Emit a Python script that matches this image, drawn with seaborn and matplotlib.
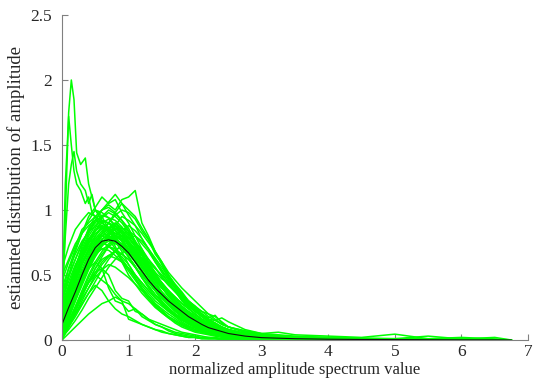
import numpy as np
import pandas as pd
import seaborn as sns
import matplotlib.pyplot as plt
from matplotlib.ticker import FormatStrFormatter

# malla comun de x para las curvas verdes
x_grid = [0.0, 0.1, 0.2, 0.3, 0.4, 0.5, 0.6, 0.7, 0.8, 0.9, 1.0, 1.1, 1.2,
          1.3, 1.4, 1.5, 1.6, 1.7, 1.8, 1.9, 2.0, 2.1, 2.2, 2.3, 2.4, 2.5,
          2.75, 3.0, 3.25, 3.5, 4.0, 4.5, 5.0, 5.5, 6.0, 6.5, 6.75]

# curvas individuales (leidas a ojo del grafico)
curvas = {
    'g01': [0.3, 0.5, 0.68, 0.82, 0.95, 1.02, 1.1, 1.05, 1.08, 0.98, 0.9, 0.8, 0.7, 0.6, 0.52, 0.43, 0.36, 0.3, 0.24, 0.2, 0.15, 0.12, 0.1, 0.08, 0.06, 0.05,
            0.03, 0.02, 0.015, 0.01, 0.01, 0.005, 0.003, 0.002, 0.002, 0.001, 0],
    'g02': [0.1, 0.2, 0.32, 0.45, 0.58, 0.7, 0.82, 0.9, 0.98, 1.05, 1.0, 0.95, 0.86, 0.78, 0.68, 0.6, 0.5, 0.42, 0.35, 0.28, 0.22, 0.18, 0.14, 0.1, 0.08, 0.06,
            0.04, 0.025, 0.02, 0.015, 0.01, 0.006, 0.004, 0.003, 0.002, 0.001, 0],
    'g03': [0.45, 0.6, 0.72, 0.85, 0.9, 0.95, 0.92, 0.9, 0.84, 0.78, 0.7, 0.62, 0.52, 0.45, 0.38, 0.3, 0.25, 0.2, 0.16, 0.12, 0.1, 0.08, 0.06, 0.05, 0.04, 0.03,
            0.02, 0.012, 0.01, 0.008, 0.005, 0.003, 0.002, 0.001, 0.001, 0, 0],
    'g04': [0.15, 0.28, 0.4, 0.52, 0.64, 0.74, 0.82, 0.86, 0.9, 0.86, 0.82, 0.75, 0.66, 0.58, 0.5, 0.44, 0.38, 0.3, 0.25, 0.2, 0.17, 0.14, 0.1, 0.09, 0.07, 0.05,
            0.035, 0.02, 0.015, 0.01, 0.008, 0.005, 0.004, 0.003, 0.002, 0.001, 0],
    'g05': [0.2, 0.32, 0.45, 0.58, 0.68, 0.76, 0.82, 0.85, 0.82, 0.8, 0.72, 0.65, 0.56, 0.5, 0.42, 0.36, 0.3, 0.26, 0.2, 0.17, 0.14, 0.11, 0.09, 0.07, 0.05, 0.04,
            0.025, 0.015, 0.01, 0.008, 0.005, 0.004, 0.002, 0.002, 0.001, 0.001, 0],
    'g06': [0.08, 0.22, 0.36, 0.5, 0.62, 0.74, 0.8, 0.78, 0.76, 0.7, 0.64, 0.56, 0.48, 0.42, 0.35, 0.3, 0.24, 0.2, 0.16, 0.13, 0.1, 0.08, 0.06, 0.05, 0.04, 0.03,
            0.02, 0.01, 0.008, 0.006, 0.004, 0.003, 0.002, 0.001, 0.001, 0, 0],
    'g07': [0.05, 0.15, 0.25, 0.36, 0.48, 0.58, 0.66, 0.72, 0.75, 0.74, 0.7, 0.66, 0.6, 0.54, 0.48, 0.42, 0.38, 0.33, 0.28, 0.24, 0.2, 0.16, 0.13, 0.11, 0.09, 0.07,
            0.05, 0.03, 0.02, 0.015, 0.01, 0.008, 0.005, 0.004, 0.003, 0.002, 0],
    'g08': [0.02, 0.18, 0.34, 0.48, 0.6, 0.68, 0.7, 0.69, 0.65, 0.6, 0.53, 0.46, 0.39, 0.32, 0.26, 0.21, 0.17, 0.13, 0.1, 0.08, 0.06, 0.05, 0.04, 0.03, 0.02, 0.02,
            0.01, 0.008, 0.005, 0.004, 0.003, 0.002, 0.001, 0.001, 0, 0, 0],
    'g09': [0.18, 0.35, 0.5, 0.64, 0.77, 0.86, 0.95, 1.0, 0.97, 0.92, 0.86, 0.76, 0.68, 0.58, 0.5, 0.42, 0.34, 0.28, 0.23, 0.18, 0.14, 0.11, 0.09, 0.07, 0.05, 0.04,
            0.025, 0.015, 0.01, 0.008, 0.005, 0.003, 0.002, 0.002, 0.001, 0.001, 0],
    'g10': [0.0, 0.1, 0.22, 0.34, 0.45, 0.55, 0.62, 0.65, 0.63, 0.6, 0.55, 0.5, 0.44, 0.38, 0.33, 0.28, 0.24, 0.2, 0.17, 0.14, 0.11, 0.09, 0.07, 0.06, 0.05, 0.04,
            0.03, 0.02, 0.015, 0.01, 0.006, 0.004, 0.003, 0.002, 0.001, 0.001, 0],
    'g11': [0.06, 0.14, 0.24, 0.34, 0.45, 0.55, 0.64, 0.72, 0.8, 0.84, 0.88, 0.84, 0.78, 0.7, 0.62, 0.54, 0.46, 0.4, 0.33, 0.28, 0.23, 0.19, 0.15, 0.12, 0.1, 0.08,
            0.05, 0.035, 0.025, 0.018, 0.012, 0.008, 0.006, 0.004, 0.003, 0.002, 0],
    'g12': [0.3, 0.45, 0.58, 0.68, 0.75, 0.78, 0.76, 0.72, 0.68, 0.62, 0.55, 0.48, 0.4, 0.34, 0.28, 0.23, 0.18, 0.15, 0.12, 0.09, 0.07, 0.06, 0.05, 0.04, 0.03, 0.02,
            0.012, 0.008, 0.005, 0.004, 0.003, 0.002, 0.001, 0.001, 0, 0, 0],
    'g13': [0.12, 0.3, 0.48, 0.62, 0.74, 0.84, 0.92, 0.9, 0.86, 0.8, 0.74, 0.66, 0.58, 0.5, 0.43, 0.36, 0.3, 0.25, 0.21, 0.17, 0.13, 0.1, 0.08, 0.07, 0.05, 0.04,
            0.025, 0.015, 0.012, 0.008, 0.005, 0.004, 0.003, 0.002, 0.001, 0.001, 0],
    'g14': [0.04, 0.12, 0.2, 0.3, 0.4, 0.5, 0.58, 0.64, 0.69, 0.72, 0.7, 0.66, 0.6, 0.54, 0.48, 0.42, 0.37, 0.32, 0.28, 0.26, 0.22, 0.2, 0.16, 0.15, 0.17, 0.14,
            0.08, 0.05, 0.04, 0.03, 0.02, 0.012, 0.008, 0.006, 0.004, 0.002, 0],
    'g15': [0.1, 0.2, 0.32, 0.44, 0.55, 0.64, 0.72, 0.78, 0.82, 0.8, 0.76, 0.7, 0.62, 0.55, 0.47, 0.4, 0.34, 0.28, 0.23, 0.19, 0.15, 0.12, 0.1, 0.08, 0.06, 0.05,
            0.03, 0.02, 0.015, 0.012, 0.008, 0.006, 0.004, 0.003, 0.002, 0.001, 0],
    'g16': [0.22, 0.4, 0.56, 0.7, 0.82, 0.92, 1.0, 1.06, 1.12, 1.05, 0.96, 0.88, 0.78, 0.7, 0.6, 0.52, 0.44, 0.38, 0.3, 0.25, 0.2, 0.16, 0.12, 0.1, 0.08, 0.06,
            0.04, 0.025, 0.02, 0.014, 0.01, 0.006, 0.004, 0.003, 0.002, 0.001, 0],
    'g17': [0.05, 0.2, 0.35, 0.46, 0.55, 0.6, 0.55, 0.4, 0.3, 0.28, 0.22, 0.24, 0.18, 0.15, 0.12, 0.1, 0.08, 0.06, 0.05, 0.04, 0.03, 0.02, 0.02, 0.015, 0.01, 0.01,
            0.005, 0.003, 0.002, 0.001, 0.001, 0, 0, 0, 0, 0, 0],
    'g18': [0.0, 0.12, 0.24, 0.36, 0.45, 0.52, 0.55, 0.5, 0.38, 0.32, 0.3, 0.22, 0.2, 0.16, 0.12, 0.1, 0.07, 0.05, 0.04, 0.03, 0.02, 0.015, 0.01, 0.01, 0.005, 0.005,
            0.003, 0.002, 0.001, 0, 0, 0, 0, 0, 0, 0, 0],
    'g19': [0.02, 0.1, 0.2, 0.28, 0.36, 0.42, 0.38, 0.3, 0.24, 0.2, 0.18, 0.15, 0.12, 0.1, 0.08, 0.06, 0.05, 0.04, 0.03, 0.02, 0.02, 0.01, 0.01, 0.01, 0.005, 0.005,
            0.003, 0.002, 0.001, 0, 0, 0, 0, 0, 0, 0, 0],
    'g20': [0.55, 0.72, 0.85, 0.92, 0.98, 0.95, 0.9, 0.86, 0.8, 0.72, 0.64, 0.56, 0.48, 0.4, 0.33, 0.27, 0.22, 0.18, 0.14, 0.11, 0.09, 0.07, 0.05, 0.04, 0.03, 0.02,
            0.015, 0.01, 0.006, 0.004, 0.003, 0.002, 0.001, 0, 0, 0, 0],
    'g21': [0.15, 0.3, 0.44, 0.58, 0.7, 0.8, 0.86, 0.85, 0.8, 0.76, 0.68, 0.6, 0.52, 0.45, 0.38, 0.32, 0.27, 0.22, 0.18, 0.15, 0.12, 0.1, 0.08, 0.06, 0.05, 0.04,
            0.025, 0.015, 0.01, 0.008, 0.005, 0.004, 0.003, 0.002, 0.001, 0.001, 0],
    'g22': [0.02, 0.08, 0.15, 0.23, 0.32, 0.4, 0.48, 0.56, 0.62, 0.67, 0.7, 0.68, 0.65, 0.6, 0.55, 0.5, 0.45, 0.4, 0.35, 0.3, 0.26, 0.22, 0.18, 0.15, 0.12, 0.1,
            0.06, 0.04, 0.03, 0.02, 0.015, 0.01, 0.008, 0.006, 0.004, 0.002, 0],
    'g23': [0.08, 0.18, 0.3, 0.42, 0.54, 0.65, 0.74, 0.82, 0.88, 0.95, 0.92, 0.88, 0.82, 0.75, 0.68, 0.6, 0.52, 0.46, 0.4, 0.35, 0.3, 0.25, 0.2, 0.16, 0.12, 0.1,
            0.06, 0.04, 0.03, 0.02, 0.015, 0.01, 0.01, 0.008, 0.006, 0.004, 0],
    'g24': [0.25, 0.38, 0.5, 0.6, 0.68, 0.72, 0.75, 0.72, 0.68, 0.64, 0.58, 0.5, 0.44, 0.38, 0.32, 0.28, 0.23, 0.19, 0.16, 0.13, 0.1, 0.08, 0.07, 0.05, 0.04, 0.03,
            0.02, 0.012, 0.008, 0.006, 0.004, 0.003, 0.002, 0.001, 0.001, 0, 0],
    'g25': [0.05, 0.14, 0.24, 0.34, 0.44, 0.52, 0.6, 0.65, 0.68, 0.66, 0.62, 0.56, 0.5, 0.44, 0.38, 0.33, 0.28, 0.24, 0.2, 0.16, 0.13, 0.1, 0.08, 0.06, 0.05, 0.04,
            0.025, 0.018, 0.012, 0.008, 0.006, 0.004, 0.003, 0.002, 0.001, 0.001, 0],
    'g26': [0.35, 0.55, 0.7, 0.82, 0.92, 1.0, 0.98, 0.94, 0.88, 0.82, 0.74, 0.65, 0.56, 0.48, 0.4, 0.34, 0.28, 0.23, 0.18, 0.14, 0.11, 0.09, 0.07, 0.05, 0.04, 0.03,
            0.018, 0.01, 0.008, 0.005, 0.003, 0.002, 0.001, 0.001, 0, 0, 0],
    'g27': [0.03, 0.1, 0.18, 0.27, 0.36, 0.45, 0.54, 0.62, 0.68, 0.74, 0.78, 0.8, 0.76, 0.7, 0.63, 0.56, 0.48, 0.42, 0.36, 0.3, 0.25, 0.22, 0.2, 0.18, 0.14, 0.1,
            0.07, 0.05, 0.06, 0.04, 0.03, 0.02, 0.045, 0.01, 0.02, 0.008, 0],
    'g28': [0.03, 0.12, 0.22, 0.32, 0.4, 0.48, 0.54, 0.58, 0.56, 0.52, 0.48, 0.43, 0.38, 0.32, 0.27, 0.22, 0.18, 0.15, 0.12, 0.1, 0.08, 0.06, 0.05, 0.04, 0.03, 0.02,
            0.015, 0.01, 0.006, 0.004, 0.003, 0.002, 0.001, 0.001, 0, 0, 0],
    'g29': [0.02, 0.12, 0.24, 0.35, 0.44, 0.5, 0.46, 0.42, 0.35, 0.3, 0.16, 0.14, 0.12, 0.1, 0.08, 0.07, 0.05, 0.04, 0.03, 0.02, 0.02, 0.01, 0.01, 0.01, 0.005, 0.005,
            0.003, 0.002, 0.001, 0, 0, 0, 0, 0, 0, 0, 0],
    'g30': [0.0, 0.05, 0.1, 0.15, 0.2, 0.24, 0.28, 0.3, 0.33, 0.3, 0.28, 0.24, 0.2, 0.16, 0.14, 0.12, 0.1, 0.08, 0.06, 0.05, 0.04, 0.03, 0.02, 0.02, 0.01, 0.01,
            0.006, 0.004, 0.002, 0.001, 0, 0, 0, 0, 0, 0, 0],
    'g31': [0.1, 0.24, 0.38, 0.52, 0.64, 0.72, 0.78, 0.8, 0.78, 0.74, 0.7, 0.64, 0.58, 0.52, 0.46, 0.4, 0.35, 0.3, 0.26, 0.22, 0.18, 0.15, 0.12, 0.1, 0.08, 0.06,
            0.04, 0.03, 0.035, 0.02, 0.02, 0.015, 0.01, 0.03, 0.008, 0.02, 0],
    'h01': [0.2, 0.36, 0.5, 0.63, 0.72, 0.8, 0.88, 0.84, 0.9, 0.84, 0.78, 0.72, 0.62, 0.57, 0.48, 0.41, 0.36, 0.29, 0.24, 0.2, 0.16, 0.13, 0.1, 0.08, 0.06, 0.05,
            0.03, 0.02, 0.014, 0.01, 0.007, 0.005, 0.003, 0.002, 0.001, 0.001, 0],
    'h02': [0.1, 0.26, 0.42, 0.55, 0.66, 0.74, 0.8, 0.84, 0.79, 0.8, 0.73, 0.68, 0.6, 0.54, 0.46, 0.41, 0.34, 0.3, 0.25, 0.21, 0.17, 0.14, 0.12, 0.1, 0.08, 0.06,
            0.04, 0.025, 0.018, 0.012, 0.008, 0.006, 0.004, 0.003, 0.002, 0.001, 0],
    'h03': [0.28, 0.42, 0.56, 0.67, 0.78, 0.84, 0.9, 0.93, 0.88, 0.84, 0.75, 0.69, 0.6, 0.52, 0.45, 0.37, 0.32, 0.26, 0.21, 0.17, 0.14, 0.11, 0.09, 0.07, 0.05, 0.04,
            0.02, 0.012, 0.01, 0.007, 0.005, 0.003, 0.002, 0.001, 0.001, 0, 0],
    'h04': [0.05, 0.16, 0.3, 0.44, 0.56, 0.66, 0.74, 0.8, 0.86, 0.84, 0.81, 0.75, 0.7, 0.62, 0.56, 0.48, 0.42, 0.37, 0.31, 0.26, 0.22, 0.18, 0.15, 0.12, 0.09, 0.07,
            0.045, 0.03, 0.02, 0.015, 0.01, 0.007, 0.005, 0.004, 0.003, 0.002, 0],
    'h05': [0.14, 0.3, 0.46, 0.6, 0.7, 0.78, 0.82, 0.8, 0.77, 0.73, 0.66, 0.6, 0.52, 0.45, 0.39, 0.33, 0.27, 0.23, 0.19, 0.15, 0.12, 0.1, 0.08, 0.06, 0.05, 0.04,
            0.025, 0.015, 0.01, 0.008, 0.005, 0.003, 0.002, 0.002, 0.001, 0, 0],
    'h06': [0.35, 0.5, 0.62, 0.74, 0.84, 0.9, 0.96, 0.94, 0.92, 0.87, 0.8, 0.72, 0.65, 0.55, 0.48, 0.42, 0.35, 0.29, 0.24, 0.2, 0.16, 0.13, 0.1, 0.08, 0.06, 0.05,
            0.03, 0.02, 0.015, 0.01, 0.006, 0.004, 0.003, 0.002, 0.001, 0.001, 0],
    'h07': [0.08, 0.2, 0.33, 0.46, 0.58, 0.68, 0.75, 0.79, 0.8, 0.78, 0.75, 0.69, 0.63, 0.57, 0.51, 0.44, 0.38, 0.33, 0.28, 0.24, 0.2, 0.16, 0.13, 0.11, 0.09, 0.07,
            0.05, 0.03, 0.02, 0.015, 0.012, 0.008, 0.006, 0.004, 0.003, 0.002, 0],
    'h08': [0.22, 0.4, 0.55, 0.68, 0.8, 0.88, 0.94, 0.98, 0.95, 0.9, 0.83, 0.74, 0.66, 0.56, 0.48, 0.41, 0.34, 0.28, 0.23, 0.19, 0.15, 0.12, 0.1, 0.08, 0.06, 0.05,
            0.03, 0.02, 0.013, 0.01, 0.006, 0.004, 0.003, 0.002, 0.001, 0.001, 0],
    'h09': [0.12, 0.24, 0.38, 0.5, 0.6, 0.68, 0.73, 0.76, 0.74, 0.72, 0.69, 0.63, 0.57, 0.5, 0.45, 0.4, 0.34, 0.3, 0.26, 0.22, 0.19, 0.16, 0.13, 0.11, 0.09, 0.07,
            0.045, 0.03, 0.02, 0.015, 0.01, 0.007, 0.005, 0.004, 0.003, 0.002, 0],
    'h10': [0.4, 0.55, 0.66, 0.76, 0.83, 0.88, 0.86, 0.84, 0.78, 0.73, 0.64, 0.57, 0.48, 0.41, 0.35, 0.29, 0.24, 0.2, 0.16, 0.13, 0.1, 0.08, 0.06, 0.05, 0.04, 0.03,
            0.018, 0.01, 0.007, 0.005, 0.003, 0.002, 0.001, 0.001, 0, 0, 0],
    'h11': [0.06, 0.18, 0.32, 0.46, 0.6, 0.72, 0.82, 0.9, 0.96, 1.0, 0.98, 0.93, 0.84, 0.77, 0.66, 0.59, 0.5, 0.43, 0.37, 0.3, 0.25, 0.2, 0.16, 0.13, 0.1, 0.08,
            0.05, 0.03, 0.022, 0.015, 0.01, 0.007, 0.005, 0.004, 0.003, 0.002, 0],
    'h12': [0.18, 0.32, 0.46, 0.58, 0.68, 0.76, 0.8, 0.82, 0.8, 0.77, 0.7, 0.64, 0.56, 0.49, 0.43, 0.37, 0.31, 0.27, 0.22, 0.18, 0.15, 0.12, 0.1, 0.08, 0.06, 0.05,
            0.03, 0.02, 0.015, 0.01, 0.007, 0.005, 0.003, 0.002, 0.002, 0.001, 0],
    'h13': [0.24, 0.38, 0.52, 0.64, 0.74, 0.82, 0.86, 0.9, 0.88, 0.84, 0.79, 0.72, 0.66, 0.58, 0.5, 0.44, 0.37, 0.31, 0.26, 0.21, 0.17, 0.14, 0.11, 0.09, 0.07, 0.05,
            0.03, 0.02, 0.015, 0.01, 0.007, 0.005, 0.003, 0.002, 0.001, 0.001, 0],
    'h14': [0.1, 0.22, 0.36, 0.48, 0.58, 0.66, 0.7, 0.72, 0.7, 0.66, 0.62, 0.56, 0.5, 0.44, 0.38, 0.33, 0.28, 0.24, 0.2, 0.17, 0.14, 0.11, 0.09, 0.07, 0.06, 0.05,
            0.03, 0.02, 0.015, 0.01, 0.006, 0.004, 0.003, 0.002, 0.001, 0.001, 0],
    'h15': [0.3, 0.48, 0.62, 0.74, 0.85, 0.92, 1.0, 1.02, 0.98, 0.92, 0.84, 0.76, 0.66, 0.57, 0.5, 0.41, 0.34, 0.28, 0.23, 0.18, 0.15, 0.12, 0.09, 0.07, 0.05, 0.04,
            0.025, 0.015, 0.01, 0.007, 0.005, 0.003, 0.002, 0.001, 0.001, 0, 0],
    'h16': [0.16, 0.28, 0.4, 0.52, 0.62, 0.7, 0.77, 0.82, 0.85, 0.86, 0.84, 0.8, 0.74, 0.68, 0.6, 0.53, 0.47, 0.4, 0.34, 0.29, 0.24, 0.2, 0.16, 0.13, 0.1, 0.08,
            0.05, 0.035, 0.025, 0.02, 0.012, 0.008, 0.006, 0.004, 0.003, 0.002, 0],
    'h17': [0.26, 0.4, 0.54, 0.66, 0.76, 0.84, 0.88, 0.86, 0.84, 0.8, 0.74, 0.66, 0.58, 0.5, 0.42, 0.36, 0.3, 0.25, 0.2, 0.16, 0.13, 0.1, 0.08, 0.06, 0.05, 0.04,
            0.025, 0.015, 0.01, 0.007, 0.005, 0.003, 0.002, 0.001, 0.001, 0, 0],
    'h18': [0.04, 0.14, 0.26, 0.38, 0.5, 0.6, 0.68, 0.74, 0.78, 0.8, 0.78, 0.74, 0.68, 0.62, 0.55, 0.49, 0.43, 0.37, 0.32, 0.27, 0.23, 0.19, 0.15, 0.13, 0.1, 0.08,
            0.05, 0.035, 0.025, 0.018, 0.012, 0.008, 0.006, 0.004, 0.003, 0.002, 0],
    'h19': [0.2, 0.34, 0.48, 0.6, 0.7, 0.78, 0.84, 0.87, 0.86, 0.82, 0.76, 0.7, 0.62, 0.55, 0.48, 0.41, 0.35, 0.3, 0.25, 0.21, 0.17, 0.14, 0.11, 0.09, 0.07, 0.06,
            0.035, 0.02, 0.015, 0.01, 0.007, 0.005, 0.004, 0.003, 0.002, 0.001, 0],
    'h20': [0.5, 0.62, 0.74, 0.82, 0.88, 0.92, 0.9, 0.86, 0.82, 0.76, 0.7, 0.62, 0.54, 0.46, 0.39, 0.33, 0.27, 0.22, 0.18, 0.14, 0.11, 0.09, 0.07, 0.05, 0.04, 0.03,
            0.018, 0.01, 0.007, 0.005, 0.003, 0.002, 0.001, 0.001, 0, 0, 0],
    'h21': [0.15, 0.35, 0.55, 0.72, 0.86, 0.95, 1.0, 1.04, 1.0, 1.08, 1.1, 1.15, 0.9, 0.8, 0.68, 0.58, 0.48, 0.4, 0.33, 0.27, 0.22, 0.18, 0.14, 0.11, 0.09, 0.07,
            0.04, 0.025, 0.018, 0.012, 0.008, 0.005, 0.004, 0.003, 0.002, 0.001, 0],
    'h22': [0.14, 0.26, 0.4, 0.52, 0.62, 0.7, 0.76, 0.78, 0.77, 0.74, 0.7, 0.66, 0.62, 0.58, 0.52, 0.47, 0.44, 0.38, 0.33, 0.3, 0.26, 0.2, 0.17, 0.19, 0.13, 0.1,
            0.07, 0.045, 0.03, 0.025, 0.015, 0.01, 0.008, 0.005, 0.004, 0.002, 0],
}

# picos altos cerca de x = 0.1
pico_x = [0.0, 0.05, 0.1, 0.14, 0.18, 0.22, 0.28, 0.35, 0.4, 0.45, 0.5, 0.6, 0.7, 0.8, 0.9,
          1.0, 1.2, 1.4, 1.6, 1.8, 2.0, 2.3, 2.6, 3.0, 3.5, 4.0]
pico_a = [0.1, 0.95, 1.75, 2.0, 1.85, 1.44, 1.35, 1.4, 1.2, 1.1, 1.0, 0.92, 0.82, 0.72, 0.62,
          0.55, 0.4, 0.28, 0.2, 0.13, 0.08, 0.05, 0.03, 0.02, 0.01, 0.0]
pico_b = [0.2, 1.2, 1.72, 1.5, 1.3, 1.2, 1.15, 1.05, 1.1, 0.98, 0.95, 0.85, 0.78, 0.7, 0.6,
          0.5, 0.36, 0.25, 0.17, 0.11, 0.07, 0.04, 0.025, 0.015, 0.008, 0.0]
pico_c = [0.3, 0.8, 1.2, 1.35, 1.45, 1.3, 1.2, 1.15, 1.05, 1.12, 1.0, 0.95, 0.85, 0.76, 0.68,
          0.58, 0.42, 0.3, 0.22, 0.15, 0.1, 0.06, 0.04, 0.02, 0.01, 0.0]

# curva promedio (negra)
media_x = [0.0, 0.1, 0.2, 0.3, 0.4, 0.5, 0.6, 0.7, 0.8, 0.9, 1.0, 1.1, 1.2, 1.3, 1.4,
           1.5, 1.6, 1.7, 1.8, 1.9, 2.0, 2.1, 2.2, 2.3, 2.4, 2.5, 2.75, 3.0, 3.5,
           4.0, 4.5, 5.0, 5.5, 6.0, 6.5, 6.75]
media_y = [0.12, 0.25, 0.37, 0.5, 0.62, 0.71, 0.76, 0.77, 0.76, 0.72, 0.67, 0.6, 0.53, 0.46, 0.4,
           0.35, 0.3, 0.26, 0.22, 0.18, 0.15, 0.12, 0.095, 0.08, 0.065, 0.05, 0.03, 0.018, 0.01,
           0.006, 0.004, 0.003, 0.002, 0.001, 0.001, 0.0]

# armo el dataframe largo
partes = []
for nombre, valores in curvas.items():
    partes.append(pd.DataFrame({'x': x_grid, 'y': valores, 'curva': nombre}))
for nombre, valores in [('pa', pico_a), ('pb', pico_b), ('pc', pico_c)]:
    partes.append(pd.DataFrame({'x': pico_x, 'y': valores, 'curva': nombre}))
df = pd.concat(partes, ignore_index=True)
df_media = pd.DataFrame({'x': media_x, 'y': media_y})

sns.set_style('ticks')
plt.rcParams['font.family'] = ['Liberation Serif', 'DejaVu Serif']
plt.rcParams['font.size'] = 12

fig = plt.figure(figsize=(5.35, 3.81), dpi=100)
ax = fig.add_axes([62 / 535, 41 / 381, 466 / 535, 325 / 381])

sns.lineplot(data=df, x='x', y='y', units='curva', estimator=None,
             color='#00ff00', lw=1.1, ax=ax, sort=False)
sns.lineplot(data=df_media, x='x', y='y', color='#101010', lw=0.8, ax=ax)

ax.set_xlim(0, 7)
ax.set_ylim(0, 2.5)
ax.set_xticks(range(8))
ax.set_yticks([0, 0.5, 1, 1.5, 2, 2.5])
ax.yaxis.set_major_formatter(FormatStrFormatter('%g'))
ax.tick_params(direction='in', length=4, color='#808080', labelsize=12.5, pad=3)
ax.tick_params(axis='y', pad=7)
for lado in ['top', 'right']:
    ax.spines[lado].set_visible(False)
for lado in ['left', 'bottom']:
    ax.spines[lado].set_color('#808080')
    ax.spines[lado].set_linewidth(0.8)
ax.set_xlabel('normalized amplitude spectrum value', fontsize=12, labelpad=1)
ax.set_ylabel('estiamted distribution of amplitude', fontsize=13.5, labelpad=4)

fig.savefig('out.png', dpi=100)
